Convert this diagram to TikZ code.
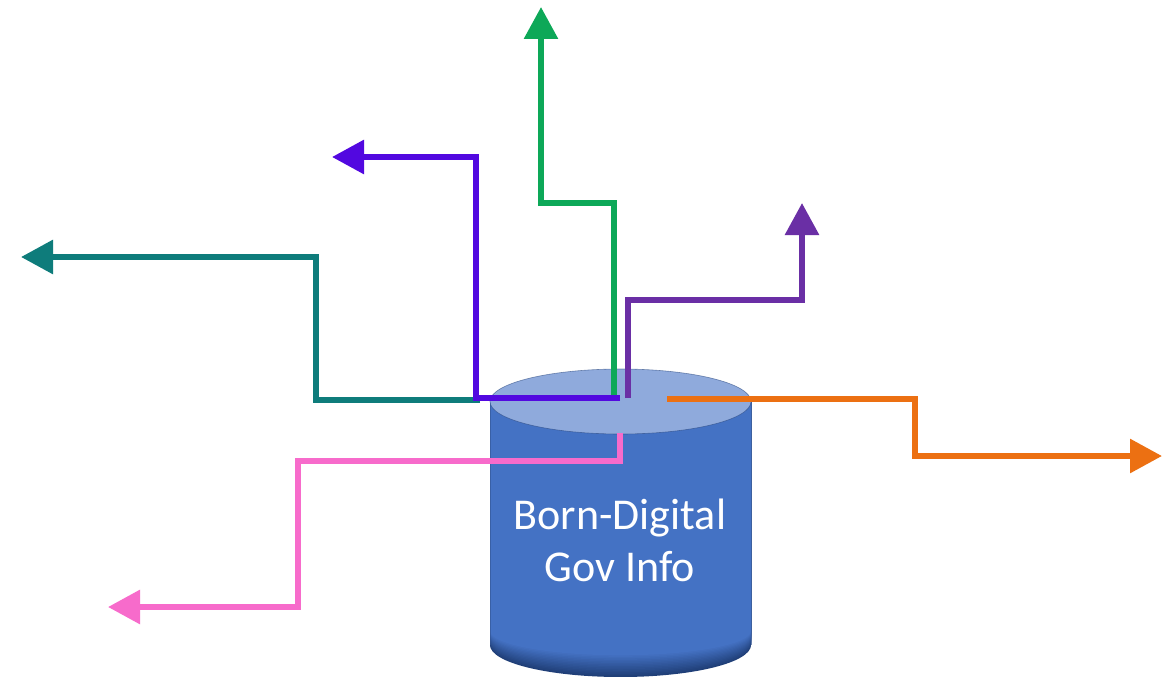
\documentclass[tikz,border=0pt]{standalone}
\usepackage{fontspec}
\setmainfont{Carlito}
\usetikzlibrary{arrows.meta}
\definecolor{cylblue}{HTML}{4472C4}
\definecolor{cyltop}{HTML}{8FAADC}
\definecolor{cyldark}{HTML}{203F78}
\definecolor{cgreen}{HTML}{0DA858}
\definecolor{cblue}{HTML}{5208E0}
\definecolor{cpurple}{HTML}{6A2FA5}
\definecolor{cteal}{HTML}{0E7C7B}
\definecolor{cpink}{HTML}{F76BCB}
\definecolor{corange}{HTML}{EC7012}
\tikzset{x=1pt,y=-1pt,
 flow/.style={line width=6pt,-{Triangle[length=32pt,width=33pt]},line join=miter},
 lbl/.style={text=white,font=\fontsize{44}{52}\selectfont,align=center}}
\begin{document}
\begin{tikzpicture}
\useasboundingbox (0,0) rectangle (1170,677);
\fill[white] (0,0) rectangle (1170,677);
% cylinder body with a darkening band along the lower rim
\foreach \i in {0,...,14}{
  \pgfmathsetmacro{\mixv}{100*(\i/14)}
  \pgfmathsetmacro{\yy}{645-\i*1.0}
  \pgfmathsetmacro{\ry}{32-\i*0.55}
  \fill[cylblue!\mixv!cyldark] (490,402) -- (490,\yy) arc[start angle=180,end angle=0,x radius=130.5,y radius=\ry] -- (751,402) -- cycle;
}
\draw[cylblue!75!black,line width=1pt,opacity=.6] (490,402) -- (490,645) (751,402) -- (751,645);
\fill[cyltop] (620.5,401.5) ellipse[x radius=130.5,y radius=32.5];
\draw[cyldark,line width=.6pt,opacity=.55] (620.5,401.5) ellipse[x radius=130.5,y radius=32.5];
\node[lbl] (label) at (620,540) {Born-Digital\\Gov Info};
\coordinate (gs) at (614,395);
\coordinate (ge) at (541,7);
\coordinate (bs) at (620,398);
\coordinate (be) at (332,157);
\coordinate (ts) at (480,400);
\coordinate (te) at (21,257);
\coordinate (ps) at (628,398);
\coordinate (pe) at (802,203);
\coordinate (os) at (667,399);
\coordinate (oe) at (1162,456);
\coordinate (ks) at (620,433);
\coordinate (ke) at (108,607);
\draw[flow,cteal] (ts) -- (316,400) -- (316,257) -- (te);
\draw[flow,cgreen] (gs) -- (614,203) -- (541,203) -- (ge);
\draw[flow,cblue] (bs) -- (476,398) -- (476,157) -- (be);
\draw[flow,cpurple] (ps) -- (628,300) -- (802,300) -- (pe);
\draw[flow,corange] (os) -- (915,399) -- (915,456) -- (oe);
\draw[flow,cpink] (ks) -- (620,461) -- (298,461) -- (298,607) -- (ke);
\end{tikzpicture}
\end{document}
